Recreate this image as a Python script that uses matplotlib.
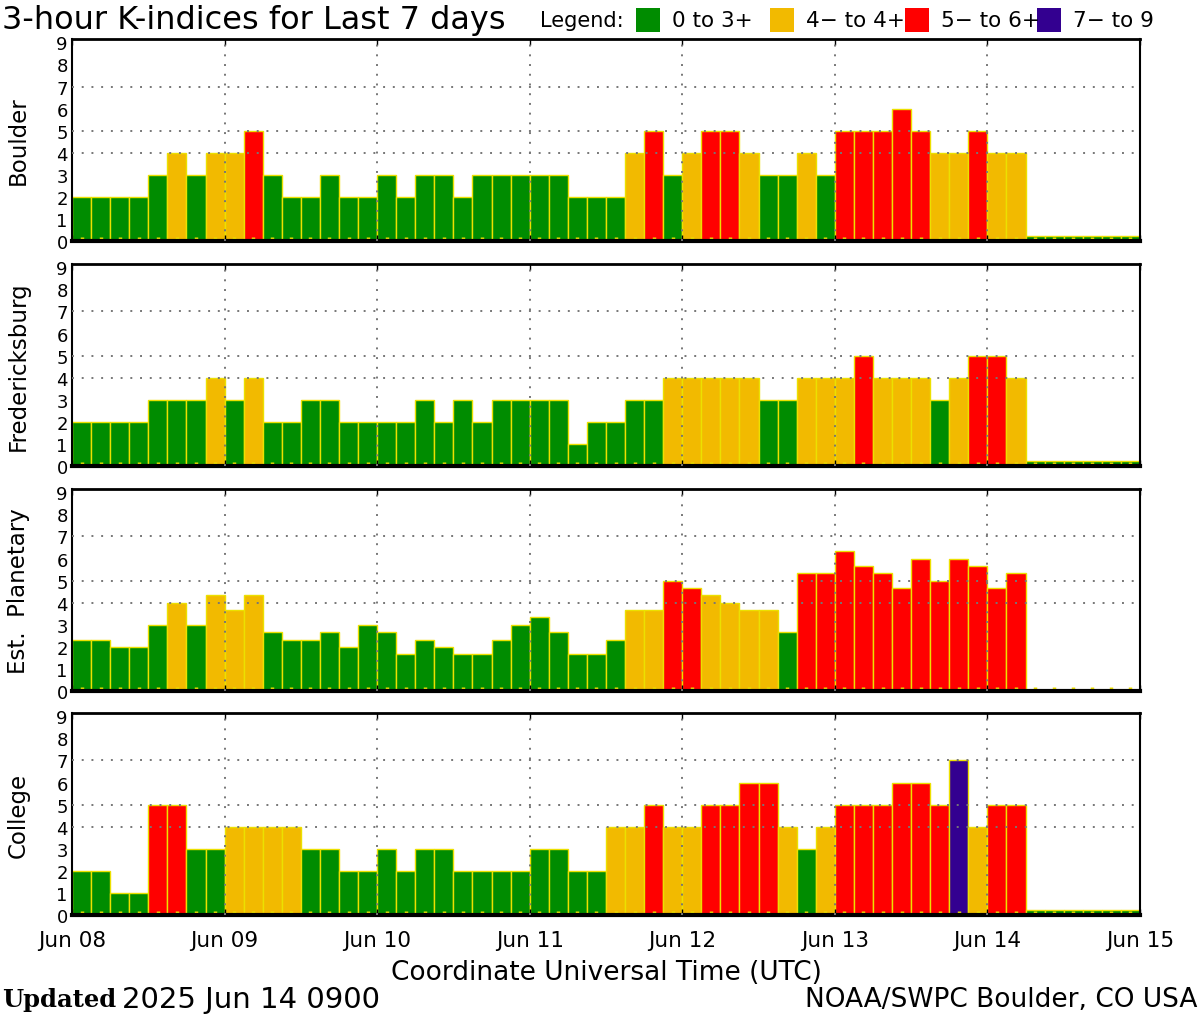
import numpy as np
import matplotlib
matplotlib.use("Agg")
import matplotlib.pyplot as plt
from matplotlib.patches import Rectangle

# -------------------------------------------------------------------------------------------------
# Datos: índice K cada 3 horas (8 valores por día), 8 al 14 de junio 2025
dias = ["Jun 08", "Jun 09", "Jun 10", "Jun 11", "Jun 12", "Jun 13", "Jun 14", "Jun 15"]
estaciones = ["Boulder", "Fredericksburg", "Est.  Planetary", "College"]

boulder = [2, 2, 2, 2, 3, 4, 3, 4,
           4, 5, 3, 2, 2, 3, 2, 2,
           3, 2, 3, 3, 2, 3, 3, 3,
           3, 3, 2, 2, 2, 4, 5, 3,
           4, 5, 5, 4, 3, 3, 4, 3,
           5, 5, 5, 6, 5, 4, 4, 5,
           4, 4]
fredericksburg = [2, 2, 2, 2, 3, 3, 3, 4,
                  3, 4, 2, 2, 3, 3, 2, 2,
                  2, 2, 3, 2, 3, 2, 3, 3,
                  3, 3, 1, 2, 2, 3, 3, 4,
                  4, 4, 4, 4, 3, 3, 4, 4,
                  4, 5, 4, 4, 4, 3, 4, 5,
                  5, 4]
planetary = [2.33, 2.33, 2, 2, 3, 4, 3, 4.33,
             3.67, 4.33, 2.67, 2.33, 2.33, 2.67, 2, 3,
             2.67, 1.67, 2.33, 2, 1.67, 1.67, 2.33, 3,
             3.33, 2.67, 1.67, 1.67, 2.33, 3.67, 3.67, 5,
             4.67, 4.33, 4, 3.67, 3.67, 2.67, 5.33, 5.33,
             6.33, 5.67, 5.33, 4.67, 6, 5, 6, 5.67,
             4.67, 5.33]
college = [2, 2, 1, 1, 5, 5, 3, 3,
           4, 4, 4, 4, 3, 3, 2, 2,
           3, 2, 3, 3, 2, 2, 2, 2,
           3, 3, 2, 2, 4, 4, 5, 4,
           4, 5, 5, 6, 6, 4, 3, 4,
           5, 5, 5, 6, 6, 5, 7, 4,
           5, 5]

series = [boulder, fredericksburg, planetary, college]
n_total = 56  # 7 días x 8 intervalos

# Colores de la leyenda
verde = "#008c00"
amarillo = "#f2ba00"
rojo = "#ff0000"
morado = "#330090"
borde = "#ece000"


def color_k(v):
    if v < 3.5:
        return verde
    if v < 4.5:
        return amarillo
    if v < 6.5:
        return rojo
    return morado


# -------------------------------------------------------------------------------------------------
fig = plt.figure(figsize=(12, 10.2), dpi=100)
plt.rcParams["font.family"] = "DejaVu Sans"

bottoms = [0.7627, 0.5422, 0.3216, 0.1020]
alto = 0.198

for i, (nombre, valores) in enumerate(zip(estaciones, series)):
    ax = fig.add_axes([0.06, bottoms[i], 0.89, alto])
    x = np.arange(len(valores))
    colores = [color_k(v) for v in valores]
    ax.bar(x, valores, width=1.0, align="edge", color=colores,
           edgecolor=borde, linewidth=1.0, zorder=1)

    # intervalos sin datos (solo estaciones)
    if nombre != "Est.  Planetary":
        x_falta = np.arange(len(valores), n_total)
        ax.bar(x_falta, np.full(len(x_falta), 0.22), width=1.0, align="edge",
               color=verde, edgecolor=borde, linewidth=1.0, zorder=1)

    ax.set_xlim(0, n_total)
    ax.set_ylim(0, 9.15)
    ax.set_yticks(range(10))
    ax.set_yticklabels([str(k) for k in range(10)], fontsize=13)
    ax.tick_params(axis="y", length=0, pad=3)

    ax.set_xticks(np.arange(0, n_total + 1, 8))
    ax.set_xticks(np.arange(0.5, n_total, 1), minor=True)
    ax.tick_params(axis="x", which="minor", direction="in", length=3, width=2.5,
                   color=borde, top=False)
    ax.tick_params(axis="x", which="major", direction="in", length=4, width=1,
                   top=True, pad=11)
    if i == 3:
        ax.set_xticklabels(dias, fontsize=15.5)
        ax.set_xlabel("Coordinate Universal Time (UTC)", fontsize=19, labelpad=6)
    else:
        ax.set_xticklabels([])

    # rejilla punteada: días y niveles 4, 5, 7
    for d in range(8, n_total, 8):
        ax.axvline(d, color="#777777", linestyle=(0, (1, 4)), linewidth=1.4, zorder=3)
    for k in [4, 5, 7]:
        ax.axhline(k, color="#777777", linestyle=(0, (1, 4)), linewidth=1.4, zorder=3)

    ax.set_ylabel(nombre, fontsize=16.5, labelpad=19)

    ax.spines["bottom"].set_linewidth(3)
    ax.spines["top"].set_linewidth(2)
    ax.spines["left"].set_linewidth(1.5)
    ax.spines["right"].set_linewidth(1.5)
    ax.spines["right"].set_linestyle((0, (2, 1)))

# -------------------------------------------------------------------------------------------------
# Título y leyenda
fig.text(0.002, 0.980, "3-hour K-indices for Last 7 days", fontsize=23, va="center", ha="left")
fig.text(0.450, 0.979, "Legend:", fontsize=15, va="center", ha="left")

items = [(verde, "0 to 3+", 0.530), (amarillo, "4\u2212 to 4+", 0.642),
         (rojo, "5\u2212 to 6+", 0.754), (morado, "7\u2212 to 9", 0.864)]
for col, txt, xp in items:
    fig.patches.append(Rectangle((xp, 0.968), 0.020, 0.023, transform=fig.transFigure,
                                 facecolor=col, edgecolor="none"))
    fig.text(xp + 0.030, 0.979, txt, fontsize=15.5, va="center", ha="left")

# Pie
fig.text(0.002, 0.0196, "Updated", fontsize=17.5, fontweight="bold", family="DejaVu Serif",
         va="center", ha="left")
fig.text(0.102, 0.0196, "2025 Jun 14 0900", fontsize=21, va="center", ha="left")
fig.text(0.998, 0.0196, "NOAA/SWPC Boulder, CO USA", fontsize=19, va="center", ha="right")

fig.savefig("out.png", dpi=100, facecolor="white")
